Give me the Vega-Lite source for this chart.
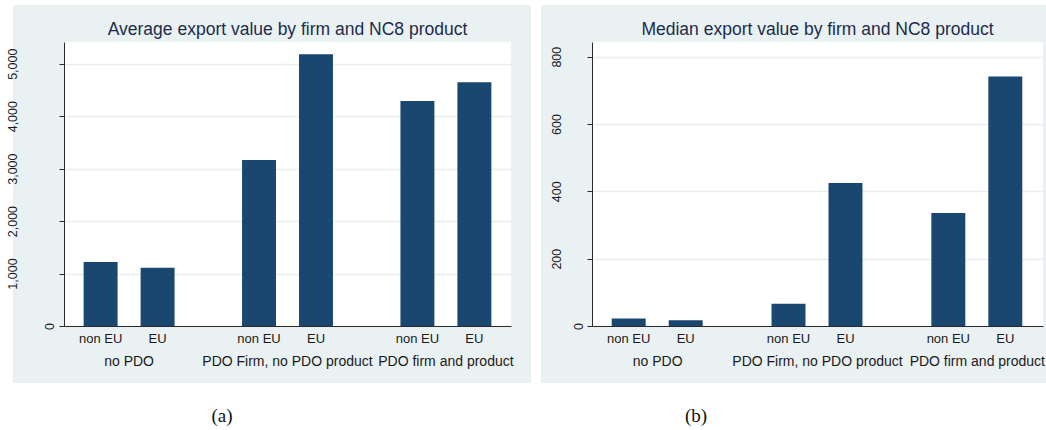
{
  "$schema": "https://vega.github.io/schema/vega-lite/v6.json",
  "background": "#eaf1f3",
  "padding": 0,
  "datasets": {
    "avg": [
      {"group": "no PDO", "market": "non EU", "value": 1220},
      {"group": "no PDO", "market": "EU", "value": 1111},
      {"group": "PDO Firm, no PDO product", "market": "non EU", "value": 3164},
      {"group": "PDO Firm, no PDO product", "market": "EU", "value": 5179},
      {"group": "PDO firm and product", "market": "non EU", "value": 4289},
      {"group": "PDO firm and product", "market": "EU", "value": 4645}
    ],
    "med": [
      {"group": "no PDO", "market": "non EU", "value": 22},
      {"group": "no PDO", "market": "EU", "value": 17},
      {"group": "PDO Firm, no PDO product", "market": "non EU", "value": 66},
      {"group": "PDO Firm, no PDO product", "market": "EU", "value": 425},
      {"group": "PDO firm and product", "market": "non EU", "value": 336},
      {"group": "PDO firm and product", "market": "EU", "value": 741}
    ]
  },
  "columns": 8,
  "spacing": 0,
  "bounds": "flush",
  "align": "each",
  "concat": [
    {"width": 13, "height": 5, "mark": "rect", "data": {"values": []}, "encoding": {}, "view": {"fill": "white"}},
    {"width": 51, "height": 5, "mark": "rect", "data": {"values": []}, "encoding": {}, "view": {"fill": "white"}},
    {"width": 447, "height": 5, "mark": "rect", "data": {"values": []}, "encoding": {}, "view": {"fill": "white"}},
    {"width": 20, "height": 5, "mark": "rect", "data": {"values": []}, "encoding": {}, "view": {"fill": "white"}},
    {"width": 10, "height": 5, "mark": "rect", "data": {"values": []}, "encoding": {}, "view": {"fill": "white"}},
    {"width": 51, "height": 5, "mark": "rect", "data": {"values": []}, "encoding": {}, "view": {"fill": "white"}},
    {"width": 451, "height": 5, "mark": "rect", "data": {"values": []}, "encoding": {}, "view": {"fill": "white"}},
    {"width": 3, "height": 5, "mark": "rect", "data": {"values": []}, "encoding": {}, "view": {"fill": "white"}},

    {"width": 13, "height": 37, "mark": "rect", "data": {"values": []}, "encoding": {}, "view": {"fill": "white"}},
    {"width": 51, "height": 37, "mark": "rect", "data": {"values": []}, "encoding": {}},
    {"width": 447, "height": 37, "mark": "rect", "data": {"values": []}, "encoding": {}},
    {"width": 20, "height": 37, "mark": "rect", "data": {"values": []}, "encoding": {}},
    {"width": 10, "height": 37, "mark": "rect", "data": {"values": []}, "encoding": {}, "view": {"fill": "white"}},
    {"width": 51, "height": 37, "mark": "rect", "data": {"values": []}, "encoding": {}},
    {"width": 451, "height": 37, "mark": "rect", "data": {"values": []}, "encoding": {}},
    {"width": 3, "height": 37, "mark": "rect", "data": {"values": []}, "encoding": {}},

    {"width": 13, "height": 284, "mark": "rect", "data": {"values": []}, "encoding": {}, "view": {"fill": "white"}},
    {"width": 51, "height": 284, "mark": "rect", "data": {"values": []}, "encoding": {}},
    {
      "width": 447,
      "height": 284,
      "view": {"fill": "white"},
      "title": {"text": "Average export value by firm and NC8 product"},
      "data": {"name": "avg"},
      "encoding": {
        "x": {
          "field": "group", "type": "nominal",
          "sort": ["no PDO", "PDO Firm, no PDO product", "PDO firm and product"],
          "scale": {"paddingInner": 0.3, "paddingOuter": 0.061},
          "axis": {"title": null, "labelAngle": 0, "ticks": false, "tickSize": 0, "labelPadding": 28, "labelFontSize": 14, "labelOverlap": false, "labelBaseline": "top", "grid": false}
        },
        "xOffset": {
          "field": "market", "type": "nominal", "sort": ["non EU", "EU"],
          "scale": {"paddingInner": 0.404, "paddingOuter": 0.175}
        },
        "y": {
          "field": "value", "type": "quantitative",
          "scale": {"domain": [0, 5414], "nice": false},
          "axis": {
            "title": null, "values": [0, 1000, 2000, 3000, 4000, 5000], "format": ",.0f",
            "labelAngle": -90, "labelAlign": "center", "labelBaseline": "bottom", "labelFontSize": 12.5,
            "tickSize": 5,
            "labelPadding": {"condition": {"test": "datum.value == 0", "value": 3}, "value": 40},
            "grid": true
          }
        }
      },
      "layer": [
        {"mark": {"type": "bar", "color": "#1a476f"}},
        {
          "mark": {"type": "text", "baseline": "top", "dy": 7, "fontSize": 13, "color": "#1a1a1a"},
          "encoding": {"y": {"datum": 0}, "text": {"field": "market"}}
        }
      ]
    },
    {"width": 20, "height": 284, "mark": "rect", "data": {"values": []}, "encoding": {}},
    {"width": 10, "height": 284, "mark": "rect", "data": {"values": []}, "encoding": {}, "view": {"fill": "white"}},
    {"width": 51, "height": 284, "mark": "rect", "data": {"values": []}, "encoding": {}},
    {
      "width": 451,
      "height": 284,
      "view": {"fill": "white"},
      "title": {"text": "Median export value by firm and NC8 product"},
      "data": {"name": "med"},
      "encoding": {
        "x": {
          "field": "group", "type": "nominal",
          "sort": ["no PDO", "PDO Firm, no PDO product", "PDO firm and product"],
          "scale": {"paddingInner": 0.3, "paddingOuter": 0.061},
          "axis": {"title": null, "labelAngle": 0, "ticks": false, "tickSize": 0, "labelPadding": 28, "labelFontSize": 14, "labelOverlap": false, "labelBaseline": "top", "grid": false}
        },
        "xOffset": {
          "field": "market", "type": "nominal", "sort": ["non EU", "EU"],
          "scale": {"paddingInner": 0.404, "paddingOuter": 0.175}
        },
        "y": {
          "field": "value", "type": "quantitative",
          "scale": {"domain": [0, 843.6], "nice": false},
          "axis": {
            "title": null, "values": [0, 200, 400, 600, 800], "format": ".0f",
            "labelAngle": -90, "labelAlign": "center", "labelBaseline": "bottom", "labelFontSize": 12.5,
            "tickSize": 5,
            "labelPadding": {"condition": {"test": "datum.value == 0", "value": 2}, "value": 24},
            "grid": true
          }
        }
      },
      "layer": [
        {"mark": {"type": "bar", "color": "#1a476f"}},
        {
          "mark": {"type": "text", "baseline": "top", "dy": 7, "fontSize": 13, "color": "#1a1a1a"},
          "encoding": {"y": {"datum": 0}, "text": {"field": "market"}}
        }
      ]
    },
    {"width": 3, "height": 284, "mark": "rect", "data": {"values": []}, "encoding": {}},

    {"width": 13, "height": 57, "mark": "rect", "data": {"values": []}, "encoding": {}, "view": {"fill": "white"}},
    {"width": 51, "height": 57, "mark": "rect", "data": {"values": []}, "encoding": {}},
    {"width": 447, "height": 57, "mark": "rect", "data": {"values": []}, "encoding": {}},
    {"width": 20, "height": 57, "mark": "rect", "data": {"values": []}, "encoding": {}},
    {"width": 10, "height": 57, "mark": "rect", "data": {"values": []}, "encoding": {}, "view": {"fill": "white"}},
    {"width": 51, "height": 57, "mark": "rect", "data": {"values": []}, "encoding": {}},
    {"width": 451, "height": 57, "mark": "rect", "data": {"values": []}, "encoding": {}},
    {"width": 3, "height": 57, "mark": "rect", "data": {"values": []}, "encoding": {}},

    {"width": 13, "height": 47, "mark": "rect", "data": {"values": []}, "encoding": {}, "view": {"fill": "white"}},
    {"width": 51, "height": 47, "mark": "rect", "data": {"values": []}, "encoding": {}, "view": {"fill": "white"}},
    {
      "width": 447, "height": 47, "view": {"fill": "white"},
      "data": {"values": [{"caption": "(a)"}]},
      "mark": {"type": "text", "font": "Liberation Serif", "fontSize": 19, "baseline": "top", "color": "#111111"},
      "encoding": {
        "x": {"field": "caption", "type": "nominal", "scale": {"type": "point", "align": 0.3535}, "axis": null},
        "text": {"field": "caption"}
      }
    },
    {"width": 20, "height": 47, "mark": "rect", "data": {"values": []}, "encoding": {}, "view": {"fill": "white"}},
    {"width": 10, "height": 47, "mark": "rect", "data": {"values": []}, "encoding": {}, "view": {"fill": "white"}},
    {"width": 51, "height": 47, "mark": "rect", "data": {"values": []}, "encoding": {}, "view": {"fill": "white"}},
    {
      "width": 451, "height": 47, "view": {"fill": "white"},
      "data": {"values": [{"caption": "(b)"}]},
      "mark": {"type": "text", "font": "Liberation Serif", "fontSize": 19, "baseline": "top", "color": "#111111"},
      "encoding": {
        "x": {"field": "caption", "type": "nominal", "scale": {"type": "point", "align": 0.2306}, "axis": null},
        "text": {"field": "caption"}
      }
    },
    {"width": 3, "height": 47, "mark": "rect", "data": {"values": []}, "encoding": {}, "view": {"fill": "white"}}
  ],
  "config": {
    "view": {"stroke": null},
    "font": "Liberation Sans",
    "axis": {
      "labelFont": "Liberation Sans", "labelColor": "#1a1a1a",
      "domainColor": "#2a2a2a", "tickColor": "#2a2a2a", "domainWidth": 1, "tickWidth": 1,
      "gridColor": "#e6eef1", "gridWidth": 1.3
    },
    "title": {
      "font": "Liberation Sans", "fontSize": 17.5, "fontWeight": "normal", "color": "#1c2c4c",
      "frame": "group", "anchor": "middle", "baseline": "bottom", "offset": 4
    }
  }
}
